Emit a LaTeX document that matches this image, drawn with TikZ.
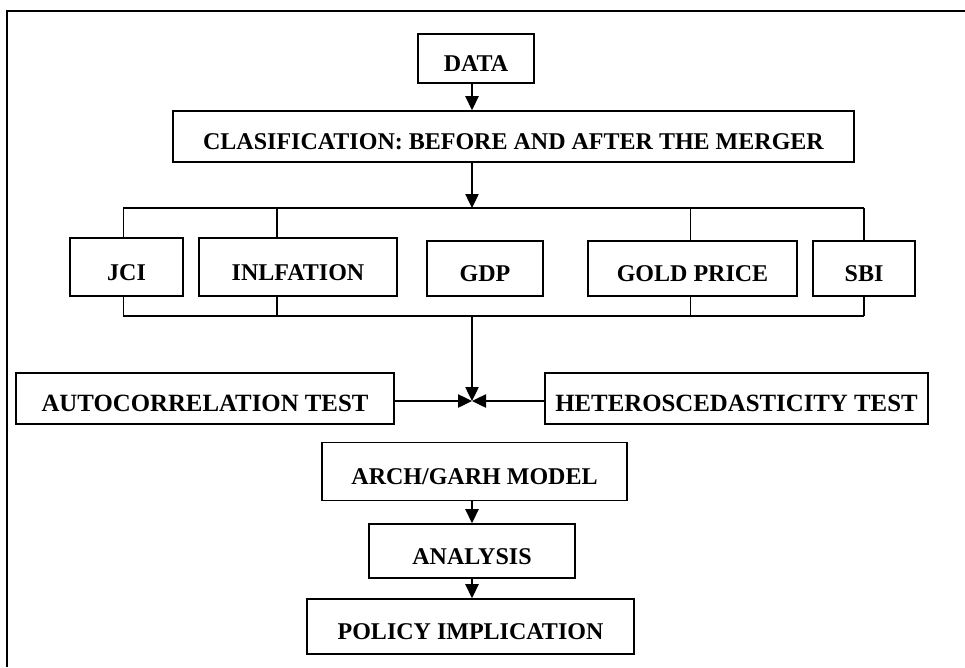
\documentclass[tikz,border=0pt]{standalone}
\usepackage{fontspec}
\setmainfont{Liberation Serif}
\usetikzlibrary{arrows.meta}

\tikzset{
  box/.style={draw, line width=1.4pt, inner sep=0pt, text height=0.78cm, text depth=0pt,
    font=\fontsize{20.5}{24}\selectfont\bfseries},
  bigbox/.style={box, font=\fontsize{21.2}{24}\selectfont\bfseries},
  arr/.style={line width=1.1pt, -{Triangle[length=0.42cm, width=0.4cm]}},
  link/.style={line width=1.1pt}
}

\begin{document}
\begin{tikzpicture}[x=0.03cm, y=-0.03cm]
\useasboundingbox (0,0) rectangle (965,667);
% Outer frame (top and left sides only)
\draw[line width=1.7pt] (7,667) -- (7,11) -- (965,11);

% Data and classification
\node[box, minimum width=3.48cm, minimum height=1.47cm] (data) at (476,58.5) {DATA};
\node[box, minimum width=20.43cm, minimum height=1.53cm] (clas) at (513.5,136.5) {CLASIFICATION: BEFORE AND AFTER THE MERGER};

% Variables
\node[box, minimum width=3.39cm, minimum height=1.74cm] (jci) at (126.5,267) {JCI};
\node[box, minimum width=5.94cm, minimum height=1.74cm] (infl) at (298,267) {INLFATION};
\node[box, minimum width=3.48cm, minimum height=1.65cm] (gdp) at (485,268.5) {GDP};
\node[box, minimum width=6.27cm, minimum height=1.65cm] (gold) at (692.5,268.5) {GOLD PRICE};
\node[box, minimum width=3.06cm, minimum height=1.65cm] (sbi) at (864,268.5) {SBI};

% Tests
\node[bigbox, minimum width=11.34cm, minimum height=1.53cm] (auto) at (205,398.5) {AUTOCORRELATION TEST};
\node[bigbox, minimum width=11.49cm, minimum height=1.53cm] (het) at (736.5,398.5) {HETEROSCEDASTICITY TEST};

% Model, analysis, policy
\node[box, minimum width=9.15cm, minimum height=1.74cm] (arch) at (474.5,471.5) {ARCH/GARH MODEL};
\node[box, minimum width=6.18cm, minimum height=1.62cm] (anal) at (472,551) {ANALYSIS};
\node[box, minimum width=9.81cm, minimum height=1.65cm] (pol) at (470.5,626.5) {POLICY IMPLICATION};

% Helper coordinates
\coordinate (axis) at (472,0);
\coordinate (bustop) at (0,208);
\coordinate (busbot) at (0,316);
\coordinate (meet) at (472,401);

% Arrows down the top
\draw[arr] (data.south -| axis) -- (clas.north -| axis);
\draw[arr] (clas.south -| axis) -- (bustop -| axis);

% Bus lines around the variables
\draw[link] ([xshift=-0.1cm]jci.north |- bustop) -- (sbi.north |- bustop);
\draw[link] ([xshift=-0.1cm]jci.south |- busbot) -- (sbi.south |- busbot);
\foreach \n/\dx in {jci/-0.1, infl/-0.63, gold/-0.05, sbi/0} {
  \draw[link] ([xshift=\dx cm]\n.north) -- ([xshift=\dx cm]\n.north |- bustop);
  \draw[link] ([xshift=\dx cm]\n.south) -- ([xshift=\dx cm]\n.south |- busbot);
}

% Converging arrows
\draw[arr] (busbot -| meet) -- (meet);
\draw[arr] (auto.east |- meet) -- (meet);
\draw[arr] (het.west |- meet) -- (meet);

% Arrows down the bottom
\draw[arr] (arch.south -| axis) -- (anal.north -| axis);
\draw[arr] (anal.south -| axis) -- (pol.north -| axis);

\end{tikzpicture}
\end{document}
